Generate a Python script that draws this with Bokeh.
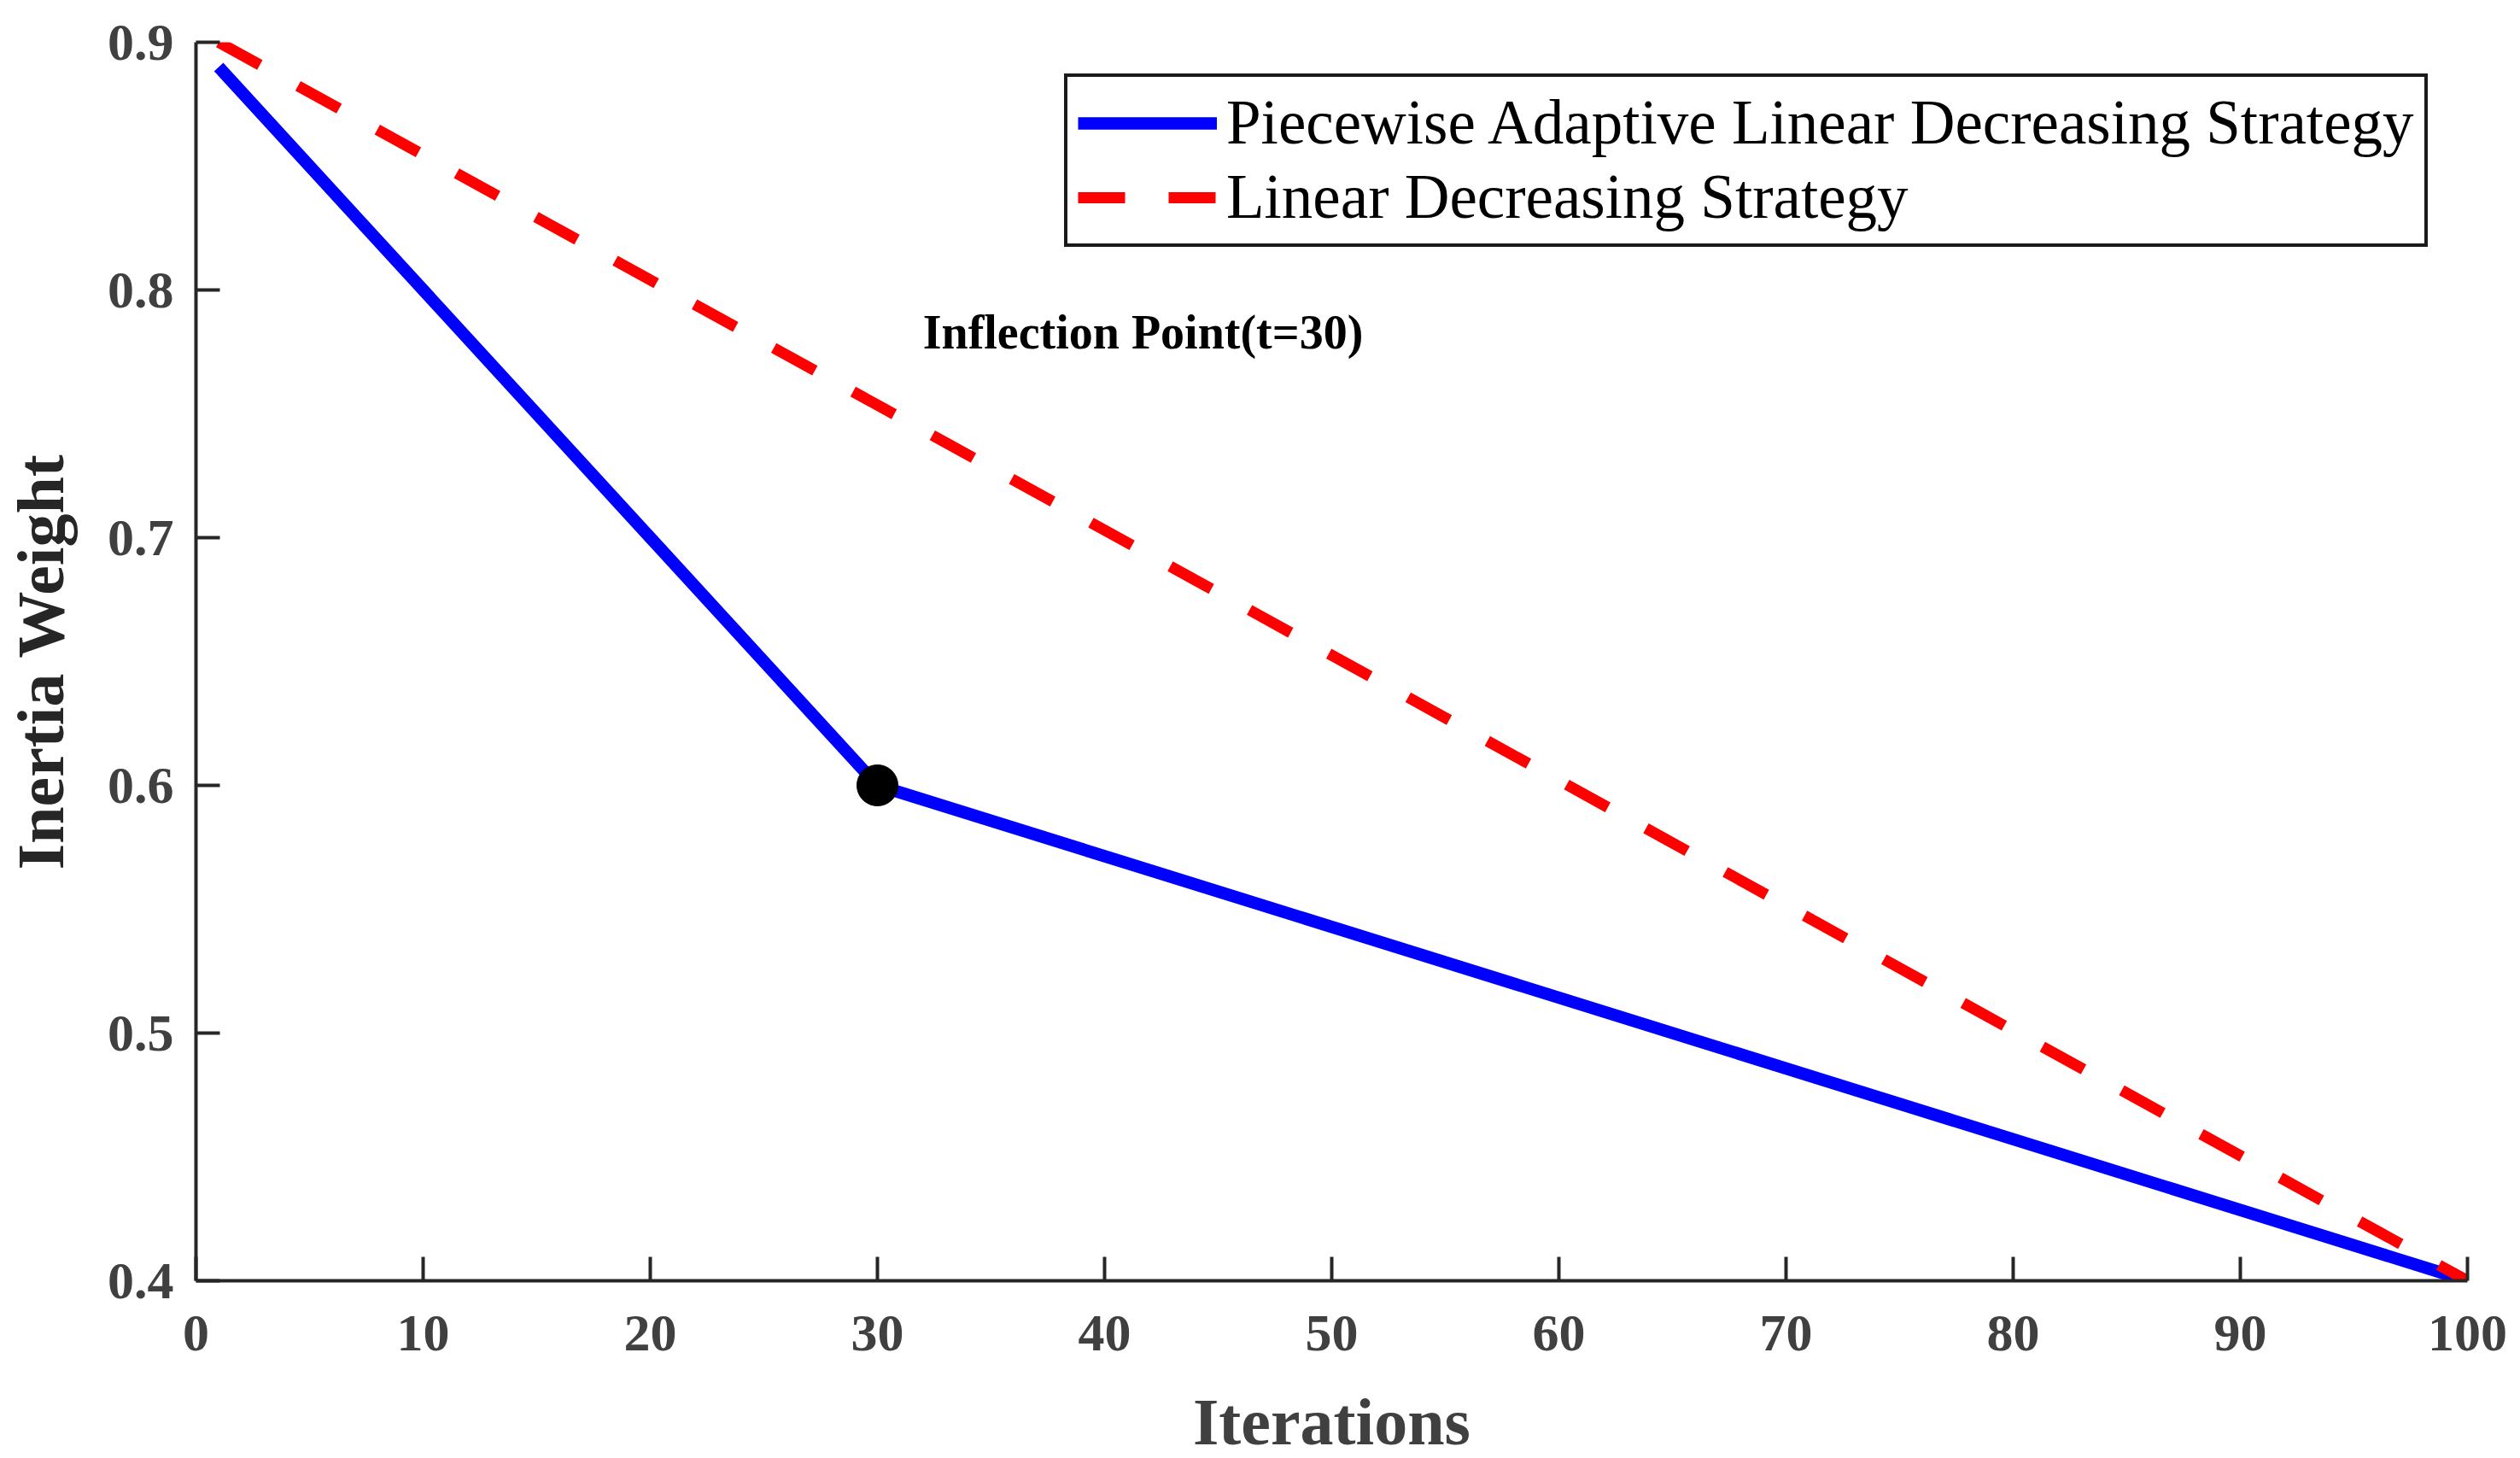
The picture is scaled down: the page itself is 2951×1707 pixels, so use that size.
from bokeh.plotting import figure
from bokeh.models import FixedTicker, Legend, LegendItem, Range1d
from bokeh.core.properties import value
from bokeh.embed import file_html
from bokeh.resources import INLINE

# ---- data ----
iterations_pal = [1, 30, 100]
weight_pal = [0.89, 0.60, 0.40]
iterations_lin = [1, 100]
weight_lin = [0.90, 0.40]
inflection_x = [30]
inflection_y = [0.60]
annotation_text = ["Inflection Point(t=30)"]
annotation_x = [32]
annotation_y = [0.7828]
x_ticks = [0, 10, 20, 30, 40, 50, 60, 70, 80, 90, 100]
x_tick_labels = ["0", "10", "20", "30", "40", "50", "60", "70", "80", "90", "100"]
y_ticks = [0.4, 0.5, 0.6, 0.7, 0.8, 0.9]
y_tick_labels = ["0.4", "0.5", "0.6", "0.7", "0.8", "0.9"]
legend_labels = ["Piecewise Adaptive Linear Decreasing Strategy", "Linear Decreasing Strategy"]

FONT = "Liberation Serif"
AXIS_COLOR = "#262626"
TICK_COLOR = "#404040"

p = figure(
    frame_width=2660, frame_height=1450,
    min_border_left=225, min_border_top=49, min_border_right=50, min_border_bottom=192,
    x_range=Range1d(0, 100), y_range=Range1d(0.4, 0.9),
    output_backend="svg", toolbar_location=None,
    background_fill_color="white", border_fill_color="white",
)
p.outline_line_color = None
p.xgrid.visible = False
p.ygrid.visible = False

r_pal = p.line(iterations_pal, weight_pal, line_color="#0000ff", line_width=14.5)
r_lin = p.line(iterations_lin, weight_lin, line_color="#ff0000", line_width=13, line_dash="55 51")
p.scatter(inflection_x, inflection_y, size=48, fill_color="black", line_color="black", marker="circle")

p.text(x=annotation_x, y=annotation_y, text=annotation_text,
       text_font=value(FONT), text_font_size=value("56px"), text_font_style="bold",
       text_color="black", text_align="left", text_baseline="alphabetic")

# axes
p.xaxis.ticker = FixedTicker(ticks=x_ticks)
p.yaxis.ticker = FixedTicker(ticks=y_ticks)
p.xaxis.major_label_overrides = {t: l for t, l in zip(x_ticks, x_tick_labels)}
p.yaxis.major_label_overrides = {t: l for t, l in zip(y_ticks, y_tick_labels)}
for ax in (p.xaxis, p.yaxis):
    ax.axis_line_color = AXIS_COLOR
    ax.axis_line_width = 4
    ax.major_tick_line_color = AXIS_COLOR
    ax.major_tick_line_width = 4
    ax.major_tick_in = 28
    ax.major_tick_out = 0
    ax.minor_tick_line_color = None
    ax.major_label_text_font = FONT
    ax.major_label_text_font_style = "bold"
    ax.major_label_text_font_size = "62px"
    ax.major_label_text_color = TICK_COLOR
    ax.axis_label_text_font = FONT
    ax.axis_label_text_font_style = "bold"
    ax.axis_label_text_font_size = "78px"

p.xaxis.axis_label = "Iterations"
p.xaxis.axis_label_text_color = TICK_COLOR
p.xaxis.major_label_standoff = 41
p.xaxis.axis_label_standoff = 37
p.yaxis.axis_label = "Inertia Weight"
p.yaxis.axis_label_text_color = AXIS_COLOR
p.yaxis.major_label_standoff = 26
p.yaxis.axis_label_standoff = 32

legend = Legend(
    items=[LegendItem(label=legend_labels[0], renderers=[r_pal]),
           LegendItem(label=legend_labels[1], renderers=[r_lin])],
    location=(1017, 1210),
    margin=0, padding=12, spacing=3,
    glyph_width=163, glyph_height=78, label_height=78, label_standoff=11,
    label_text_font=FONT, label_text_font_size="73px", label_text_color="black",
    border_line_color="#1a1a1a", border_line_width=4, border_line_alpha=1.0,
    background_fill_color="white", background_fill_alpha=1.0,
)
p.add_layout(legend)

open("out.html", "w").write(file_html(p, INLINE))
